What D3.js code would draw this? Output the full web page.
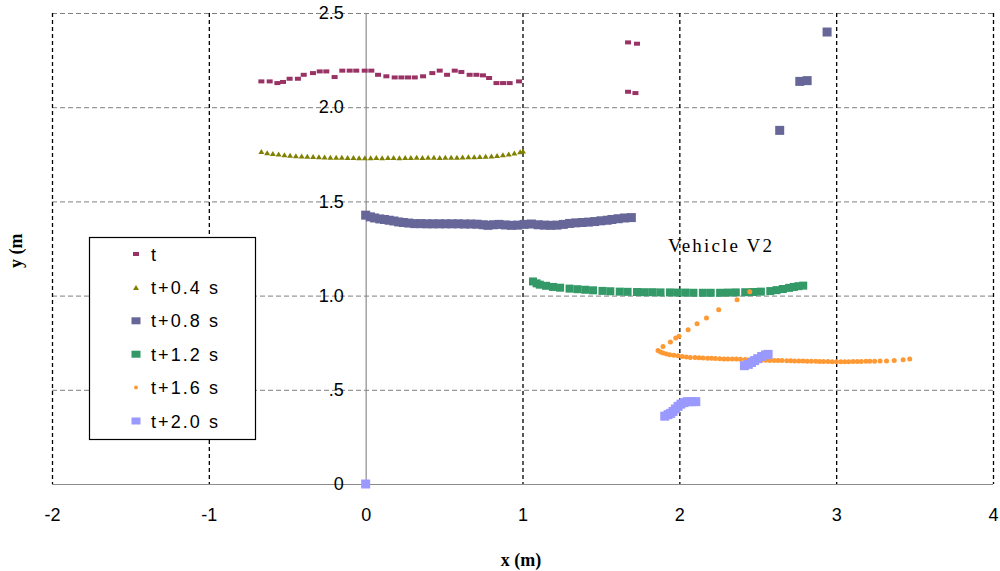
<!DOCTYPE html>
<html>
<head>
<meta charset="utf-8">
<script src="https://cdn.jsdelivr.net/npm/d3@7"></script>
<style>
  body { margin: 0; background: #fff; }
  svg { display: block; }
  .tick-label { font-family: "Liberation Sans Narrow", "Liberation Sans", sans-serif; font-size: 18px; fill: #000; }
</style>
</head>
<body>
<svg id="chart" width="1000" height="571"></svg>
<script>
// tick values and labels
const xTicks = [-2, -1, 0, 1, 2, 3, 4];
const yTicks = [0, 0.5, 1, 1.5, 2, 2.5];
const yTickLabels = ["0", ".5", "1.0", "1.5", "2.0", "2.5"];

const seriesNames = ["t", "t+0.4 s", "t+0.8 s", "t+1.2 s", "t+1.6 s", "t+2.0 s"];

// t
const sT = [[-0.665,2.137],[-0.612,2.137],[-0.563,2.128],[-0.527,2.134],[-0.485,2.151],[-0.432,2.151],
  [-0.395,2.172],[-0.336,2.181],[-0.293,2.190],[-0.251,2.190],[-0.198,2.160],[-0.149,2.194],[-0.102,2.194],
  [-0.060,2.194],[-0.006,2.194],[0.036,2.194],[0.079,2.172],[0.132,2.164],[0.185,2.158],[0.228,2.158],
  [0.270,2.158],[0.313,2.158],[0.366,2.164],[0.425,2.181],[0.472,2.194],[0.519,2.172],[0.568,2.194],
  [0.610,2.187],[0.663,2.172],[0.706,2.172],[0.748,2.169],[0.787,2.155],[0.834,2.128],[0.876,2.128],
  [0.918,2.128],[0.978,2.137],
  [1.673,2.344],[1.730,2.337],[1.673,2.082],[1.720,2.075]];

// t+0.4 s
const sT04 = [[-0.665,1.765],[-0.628,1.758],[-0.592,1.754],[-0.555,1.752],[-0.518,1.748],[-0.482,1.745],
  [-0.445,1.742],[-0.408,1.741],[-0.372,1.739],[-0.335,1.738],[-0.298,1.737],[-0.262,1.736],[-0.225,1.735],
  [-0.188,1.734],[-0.152,1.734],[-0.115,1.733],[-0.078,1.733],[-0.042,1.732],[-0.005,1.732],[0.032,1.732],
  [0.068,1.733],[0.105,1.732],[0.142,1.733],[0.178,1.733],[0.215,1.732],[0.252,1.733],[0.288,1.733],
  [0.325,1.734],[0.362,1.733],[0.398,1.734],[0.435,1.734],[0.472,1.733],[0.508,1.734],[0.545,1.735],
  [0.582,1.735],[0.618,1.736],[0.655,1.737],[0.692,1.737],[0.728,1.738],[0.765,1.740],[0.802,1.741],
  [0.838,1.744],[0.875,1.747],[0.912,1.751],[0.948,1.757],[0.985,1.763],[1.003,1.768]];

// t+0.8 s
const sT08 = [[0.000,1.427],[0.030,1.418],[0.057,1.412],[0.090,1.407],[0.120,1.404],[0.150,1.400],
  [0.180,1.396],[0.210,1.391],[0.240,1.388],[0.275,1.385],[0.313,1.382],[0.350,1.382],[0.390,1.381],
  [0.430,1.381],[0.470,1.381],[0.510,1.381],[0.550,1.381],[0.590,1.381],[0.630,1.380],[0.670,1.380],
  [0.710,1.379],[0.750,1.376],[0.780,1.373],[0.815,1.376],[0.850,1.378],[0.890,1.375],[0.930,1.373],
  [0.970,1.374],[1.010,1.378],[1.057,1.380],[1.100,1.376],[1.140,1.374],[1.180,1.373],[1.220,1.374],
  [1.260,1.378],[1.300,1.383],[1.340,1.386],[1.380,1.388],[1.420,1.390],[1.460,1.393],[1.500,1.397],
  [1.540,1.400],[1.570,1.404],[1.610,1.408],[1.650,1.412],[1.694,1.414],
  [2.640,1.877],[2.768,2.137],[2.815,2.141],[2.942,2.399]];

// t+1.2 s
const sT12 = [[1.067,1.075],[1.090,1.065],[1.110,1.058],[1.150,1.052],[1.195,1.046],[1.240,1.042],
  [1.300,1.037],[1.350,1.034],[1.400,1.031],[1.450,1.028],[1.510,1.025],[1.560,1.023],[1.620,1.021],
  [1.670,1.020],[1.730,1.019],[1.780,1.018],[1.830,1.018],[1.880,1.017],[1.940,1.017],[1.990,1.016],
  [2.040,1.016],[2.090,1.015],[2.150,1.015],[2.200,1.015],[2.260,1.015],[2.310,1.016],[2.360,1.017],
  [2.420,1.018],[2.470,1.019],[2.520,1.021],[2.580,1.024],[2.620,1.029],[2.660,1.035],[2.700,1.041],
  [2.730,1.046],[2.760,1.050],[2.790,1.053]];

// t+1.6 s
const sT16 = [[1.864,0.708],[1.880,0.700],[1.896,0.695],[1.918,0.690],[1.939,0.686],[1.965,0.683],
  [1.992,0.681],[2.018,0.677],[2.045,0.674],[2.070,0.672],[2.100,0.671],[2.125,0.670],[2.151,0.669],
  [2.180,0.668],[2.205,0.667],[2.230,0.666],[2.258,0.665],[2.285,0.664],[2.310,0.664],[2.338,0.663],
  [2.364,0.663],[2.390,0.662],[2.420,0.661],[2.445,0.660],[2.470,0.659],[2.500,0.658],[2.525,0.657],
  [2.550,0.657],[2.577,0.656],[2.605,0.655],[2.630,0.655],[2.655,0.655],[2.685,0.654],[2.710,0.654],
  [2.735,0.653],[2.762,0.653],[2.789,0.653],[2.815,0.652],[2.842,0.651],[2.870,0.651],[2.895,0.650],
  [2.920,0.650],[2.948,0.650],[2.975,0.649],[3.002,0.649],[3.030,0.649],[3.055,0.649],[3.080,0.649],
  [3.108,0.650],[3.135,0.650],[3.160,0.650],[3.190,0.651],[3.214,0.651],[3.245,0.652],[3.280,0.653],
  [3.321,0.653],[3.370,0.656],[3.427,0.660],[3.469,0.663],
  [1.896,0.730],[1.943,0.754],[1.977,0.775],[1.998,0.784],[2.056,0.819],[2.113,0.851],[2.173,0.881],
  [2.251,0.925],[2.368,0.978],[2.449,1.020]];

// t+2.0 s
const sT20 = [[0.000,0.000],
  [1.907,0.360],[1.928,0.368],[1.945,0.375],[1.960,0.385],[1.975,0.398],[1.992,0.412],[2.010,0.424],
  [2.030,0.432],[2.050,0.437],[2.075,0.437],[2.105,0.437],
  [2.415,0.628],[2.440,0.635],[2.460,0.645],[2.480,0.655],[2.500,0.665],[2.525,0.677],[2.550,0.685],
  [2.566,0.688]];

const width = 1000, height = 571;
const plot = {left: 52, right: 993, top: 13, bottom: 484};

const svg = d3.select("#chart");

const x = d3.scaleLinear().domain([-2, 4]).range([plot.left, plot.right]);
const y = d3.scaleLinear().domain([0, 2.5]).range([plot.bottom, plot.top]);

function draw_grid() {
  let g = svg.append("g").attr("id", "grid");

  // horizontal dashed grey lines
  g.selectAll("line.h")
    .data(yTicks.filter(d => d > 0)).enter()
    .append("line")
    .attr("class", "h")
    .attr("x1", plot.left).attr("x2", plot.right)
    .attr("y1", d => y(d) + 0.5).attr("y2", d => y(d) + 0.5)
    .attr("stroke", "#7f7f7f")
    .attr("stroke-dasharray", "5,3");

  // vertical dashed black lines
  g.selectAll("line.v")
    .data(xTicks.filter(d => d != 0)).enter()
    .append("line")
    .attr("class", "v")
    .attr("x1", d => x(d) + 0.5).attr("x2", d => x(d) + 0.5)
    .attr("y1", plot.top).attr("y2", plot.bottom)
    .attr("stroke", "#000")
    .attr("stroke-width", 1.3)
    .attr("stroke-dasharray", "4,3");

  // axis lines through the origin
  g.append("line")
    .attr("x1", plot.left).attr("x2", plot.right)
    .attr("y1", y(0) + 0.5).attr("y2", y(0) + 0.5)
    .attr("stroke", "#8c8c8c").attr("stroke-width", 1.2);
  g.append("line")
    .attr("x1", x(0) + 0.5).attr("x2", x(0) + 0.5)
    .attr("y1", plot.top).attr("y2", plot.bottom)
    .attr("stroke", "#8c8c8c").attr("stroke-width", 1.2);
}

function draw_axes() {
  let xAxis = d3.axisBottom(x).tickValues(xTicks).tickSize(0).tickPadding(24)
    .tickFormat(d => String(d));
  let gx = svg.append("g")
    .attr("transform", `translate(0,${plot.bottom})`)
    .call(xAxis);
  gx.select(".domain").remove();
  gx.selectAll("text").attr("class", "tick-label").attr("font-size", null).attr("font-family", null);

  let yAxis = d3.axisLeft(y).tickValues(yTicks).tickSize(0).tickPadding(22)
    .tickFormat((d, i) => yTickLabels[i]);
  let gy = svg.append("g")
    .attr("transform", `translate(${x(0)},0)`)
    .call(yAxis);
  gy.select(".domain").remove();
  gy.selectAll("text").attr("class", "tick-label").attr("font-size", null).attr("font-family", null);

  svg.append("text")
    .attr("x", 521).attr("y", 566)
    .attr("text-anchor", "middle")
    .attr("font-family", "Liberation Serif, serif")
    .attr("font-weight", "bold")
    .attr("font-size", 18)
    .text("x (m)");

  svg.append("text")
    .attr("transform", "translate(22,268) rotate(-90)")
    .attr("font-family", "Liberation Serif, serif")
    .attr("font-weight", "bold")
    .attr("font-size", 18)
    .text("y (m");

  svg.append("text")
    .attr("x", 668).attr("y", 252)
    .attr("font-family", "Liberation Serif, serif")
    .attr("font-size", 19)
    .attr("textLength", 104)
    .attr("lengthAdjust", "spacing")
    .text("Vehicle V2");
}

// marker styles per series
const styles = [
  {data: sT,   color: "#993366", shape: "rect", w: 6, h: 4},
  {data: sT04, color: "#808000", shape: "tri",  w: 6, h: 5},
  {data: sT08, color: "#666699", shape: "rect", w: 9, h: 9},
  {data: sT12, color: "#339966", shape: "rect", w: 8, h: 8},
  {data: sT16, color: "#FF9933", shape: "dot",  w: 5, h: 5},
  {data: sT20, color: "#9999FF", shape: "rect", w: 9, h: 9}
];

function add_marker(sel, st, cx, cy) {
  if (st.shape == "rect") {
    sel.append("rect")
      .attr("x", cx - st.w / 2).attr("y", cy - st.h / 2)
      .attr("width", st.w).attr("height", st.h)
      .attr("fill", st.color);
  } else if (st.shape == "tri") {
    sel.append("path")
      .attr("d", `M${cx - st.w / 2},${cy + st.h / 2}L${cx},${cy - st.h / 2}L${cx + st.w / 2},${cy + st.h / 2}Z`)
      .attr("fill", st.color);
  } else {
    sel.append("circle")
      .attr("cx", cx).attr("cy", cy).attr("r", st.w / 2)
      .attr("fill", st.color);
  }
}

function draw_series() {
  let g = svg.append("g").attr("id", "series");
  styles.forEach(st => {
    let sg = g.append("g");
    st.data.forEach(d => add_marker(sg, st, x(d[0]), y(d[1])));
  });
}

function draw_legend() {
  let g = svg.append("g").attr("id", "legend");
  g.append("rect")
    .attr("x", 89.5).attr("y", 237.5)
    .attr("width", 166).attr("height", 202)
    .attr("fill", "#fff").attr("stroke", "#000").attr("stroke-width", 1.2);

  let rowY = d3.scaleLinear().domain([0, 5]).range([254, 421]);
  let lens = [0, 67, 67, 67, 67, 67];
  let legendSize = [[6, 4], [6, 5], [9, 7], [9, 7], [4, 4], [9, 7]];
  seriesNames.forEach((name, i) => {
    let mst = Object.assign({}, styles[i], {w: legendSize[i][0], h: legendSize[i][1]});
    add_marker(g, mst, 136, rowY(i));
    let t = g.append("text")
      .attr("x", 151).attr("y", rowY(i) + 6.5)
      .attr("class", "tick-label")
      .text(name);
    if (lens[i] > 0) t.attr("textLength", lens[i]).attr("lengthAdjust", "spacing");
  });
}

draw_grid();
draw_series();
draw_legend();
draw_axes();
</script>
</body>
</html>
